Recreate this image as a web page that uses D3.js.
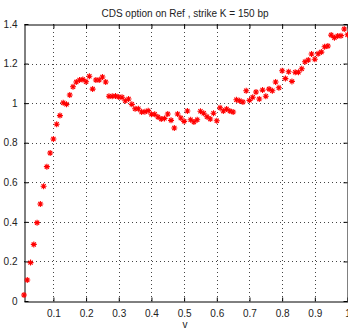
<!DOCTYPE html>
<html>
<head>
<meta charset="utf-8">
<script src="https://cdn.jsdelivr.net/npm/d3@7"></script>
<style>
  body { margin: 0; background: #fff; }
  svg { display: block; font-family: "Liberation Sans", Arial, sans-serif; }
</style>
</head>
<body>
<svg id="chart" width="348" height="329"></svg>
<script>
// v values (x)
const vValues = [
  0.01, 0.02, 0.03, 0.04, 0.05, 0.06, 0.07, 0.08, 0.09, 0.10,
  0.11, 0.12, 0.13, 0.14, 0.15, 0.16, 0.17, 0.18, 0.19, 0.20,
  0.21, 0.22, 0.23, 0.24, 0.25, 0.26, 0.27, 0.28, 0.29, 0.30,
  0.31, 0.32, 0.33, 0.34, 0.35, 0.36, 0.37, 0.38, 0.39, 0.40,
  0.41, 0.42, 0.43, 0.44, 0.45, 0.46, 0.47, 0.48, 0.49, 0.50,
  0.51, 0.52, 0.53, 0.54, 0.55, 0.56, 0.57, 0.58, 0.59, 0.60,
  0.61, 0.62, 0.63, 0.64, 0.65, 0.66, 0.67, 0.68, 0.69, 0.70,
  0.71, 0.72, 0.73, 0.74, 0.75, 0.76, 0.77, 0.78, 0.79, 0.80,
  0.81, 0.82, 0.83, 0.84, 0.85, 0.86, 0.87, 0.88, 0.89, 0.90,
  0.91, 0.92, 0.93, 0.94, 0.95, 0.96, 0.97, 0.98, 0.99, 1.00
];

// option values (y)
const optionValues = [
  0.030, 0.106, 0.194, 0.286, 0.396, 0.490, 0.580, 0.679, 0.748, 0.819,
  0.893, 0.937, 1.002, 0.994, 1.041, 1.083, 1.107, 1.117, 1.120, 1.108,
  1.136, 1.071, 1.117, 1.117, 1.132, 1.107, 1.035, 1.035, 1.036, 1.031,
  1.030, 1.012, 1.021, 0.994, 0.972, 0.972, 0.955, 0.957, 0.962, 0.944,
  0.944, 0.930, 0.920, 0.923, 0.945, 0.913, 0.874, 0.945, 0.925, 0.908,
  0.960, 0.916, 0.905, 0.916, 0.959, 0.949, 0.931, 0.920, 0.949, 0.911,
  0.977, 0.960, 0.970, 0.960, 0.955, 1.017, 1.012, 1.006, 1.063, 1.014,
  1.030, 1.056, 1.021, 1.066, 1.035, 1.071, 1.063, 1.107, 1.078, 1.164,
  1.124, 1.159, 1.110, 1.156, 1.156, 1.174, 1.209, 1.218, 1.248, 1.222,
  1.250, 1.258, 1.285, 1.289, 1.344, 1.331, 1.339, 1.341, 1.375, 1.346
];

const xTicks = [0.1, 0.2, 0.3, 0.4, 0.5, 0.6, 0.7, 0.8, 0.9, 1];
const yTicks = [0, 0.2, 0.4, 0.6, 0.8, 1, 1.2, 1.4];
const titleText = 'CDS option on Ref , strike K = 150 bp';
const xLabel = 'v';

const svg = d3.select('#chart');
const plotLeft = 24, plotRight = 347.5, plotTop = 24, plotBottom = 301;

const x = d3.scaleLinear().domain([0.01, 1]).range([plotLeft, plotRight]);
const y = d3.scaleLinear().domain([0, 1.4]).range([plotBottom, plotTop]);

const data = vValues.map((v, i) => ({ v, val: optionValues[i] }));

// grid (dotted, like matlab's "grid on")
const grid = svg.append('g')
    .attr('stroke', '#444')
    .attr('stroke-width', 1)
    .attr('stroke-dasharray', '1,3');

grid.selectAll('.gx')
    .data(xTicks.filter(d => d < 1))
    .join('line')
    .attr('x1', d => Math.round(x(d)) + 0.5)
    .attr('x2', d => Math.round(x(d)) + 0.5)
    .attr('y1', plotTop)
    .attr('y2', plotBottom);

grid.selectAll('.gy')
    .data(yTicks.filter(d => d > 0 && d < 1.4))
    .join('line')
    .attr('y1', d => Math.round(y(d)) + 0.5)
    .attr('y2', d => Math.round(y(d)) + 0.5)
    .attr('x1', plotLeft)
    .attr('x2', plotRight);

// axes (inward ticks, all four sides)
const fmt = d => d3.format('')(+d.toFixed(1));

const xBottom = svg.append('g')
    .attr('transform', `translate(0,${plotBottom + 0.5})`)
    .call(d3.axisBottom(x).tickValues(xTicks).tickSizeInner(-4).tickSizeOuter(0).tickPadding(8).tickFormat(fmt));
const xTop = svg.append('g')
    .attr('transform', `translate(0,${plotTop + 0.5})`)
    .call(d3.axisTop(x).tickValues(xTicks).tickSizeInner(-4).tickSizeOuter(0).tickFormat(''));
const yLeft = svg.append('g')
    .attr('transform', `translate(${plotLeft + 0.5},0)`)
    .call(d3.axisLeft(y).tickValues(yTicks).tickSizeInner(-4).tickSizeOuter(0).tickPadding(7).tickFormat(fmt));
const yRight = svg.append('g')
    .attr('transform', `translate(${plotRight},0)`)
    .call(d3.axisRight(y).tickValues(yTicks).tickSizeInner(-4).tickSizeOuter(0).tickFormat(''));

[xBottom, xTop, yLeft, yRight].forEach(g => {
    g.select('.domain').attr('stroke', '#000');
    g.selectAll('.tick line').attr('stroke', '#000');
    g.selectAll('.tick text')
        .attr('fill', '#222')
        .style('font-size', '10px')
        .style('font-family', '"Liberation Sans", Arial, sans-serif');
});

// asterisk markers
const r = 3;
const star = `M${-r},0L${r},0M0,${-r}L0,${r}M${-r * 0.7},${-r * 0.7}L${r * 0.7},${r * 0.7}M${-r * 0.7},${r * 0.7}L${r * 0.7},${-r * 0.7}`;

svg.append('g')
    .selectAll('path')
    .data(data)
    .join('path')
    .attr('transform', d => `translate(${x(d.v)},${y(d.val)})`)
    .attr('d', star)
    .attr('fill', 'none')
    .attr('stroke', '#ff0000')
    .attr('stroke-width', 1.1);

// title and label
svg.append('text')
    .attr('x', 185)
    .attr('y', 17)
    .attr('text-anchor', 'middle')
    .attr('fill', '#222')
    .style('font-size', '10px')
    .text(titleText);

svg.append('text')
    .attr('x', 185)
    .attr('y', 328)
    .attr('text-anchor', 'middle')
    .attr('fill', '#222')
    .style('font-size', '10px')
    .text(xLabel);
</script>
</body>
</html>
